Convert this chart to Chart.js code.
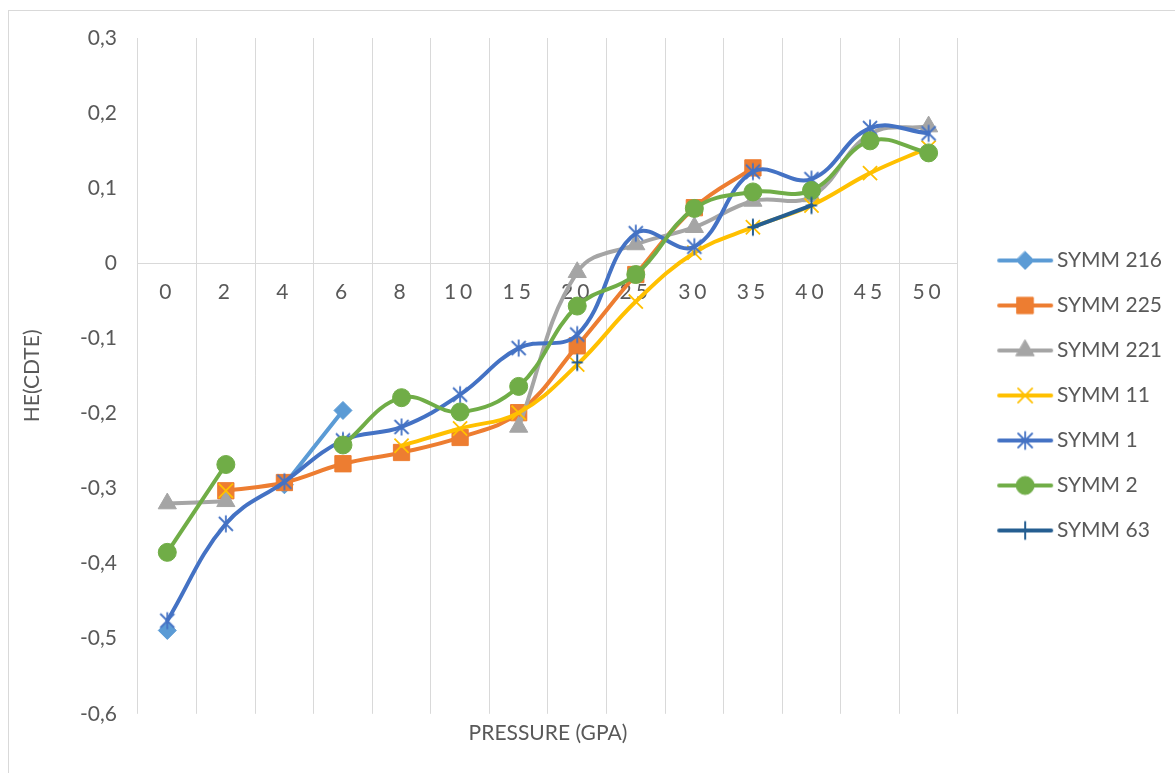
<!DOCTYPE html>
<html>
<head>
<meta charset="utf-8">
<script src="https://cdn.jsdelivr.net/npm/chart.js@4.4.1/dist/chart.umd.min.js"></script>
<style>
  html, body { margin: 0; padding: 0; background: #ffffff; overflow: hidden; }
  canvas { display: block; }
</style>
</head>
<body>
<canvas id="chart" width="1175" height="773"></canvas>
<script>
// Pressure steps (GPa) on the category axis
const pressureLabels = ['0', '2', '4', '6', '8', '10', '15', '20', '25', '30', '35', '40', '45', '50'];

// Enthalpy of CdTe per symmetry group (null = no structure at that pressure)
const symm216 = [-0.489, null, -0.295, -0.196, null, null, null, null, null, null, null, null, null, null];
const symm225 = [null, -0.303, -0.292, -0.267, -0.252, -0.232, -0.199, -0.110, -0.015, 0.074, 0.127, null, null, null];
const symm221 = [-0.320, -0.317, null, null, null, null, -0.218, -0.012, 0.025, 0.048, 0.083, 0.089, 0.172, 0.182];
const symm11  = [null, -0.303, null, null, -0.243, -0.220, -0.199, -0.135, -0.051, 0.014, 0.048, 0.077, 0.120, 0.154];
const symm1   = [-0.476, -0.347, -0.291, -0.236, -0.218, -0.175, -0.113, -0.095, 0.040, 0.022, 0.122, 0.112, 0.180, 0.173];
const symm2   = [-0.385, -0.268, null, -0.242, -0.179, -0.198, -0.164, -0.057, -0.015, 0.073, 0.095, 0.097, 0.163, 0.147];
const symm63  = [null, null, null, null, null, null, null, -0.132, null, null, 0.048, 0.077, null, null];

const yTickMin = -0.6;
const yTickMax = 0.3;
const yTickStep = 0.1;

const TEXT = '#595959';
const GRID = '#d9d9d9';
Chart.defaults.font.family = 'Lato, "Open Sans", "Liberation Sans", sans-serif';
Chart.defaults.font.size = 21;
Chart.defaults.color = TEXT;

function makeCanvas(w, h, paint) {
  const c = document.createElement('canvas');
  c.width = w; c.height = h;
  paint(c.getContext('2d'));
  return c;
}

// Marker shapes, used for the legend swatches and the custom point styles
function drawMarker(ctx, kind, x, y, color) {
  ctx.save();
  ctx.fillStyle = color;
  ctx.strokeStyle = color;
  ctx.lineWidth = 1;
  ctx.beginPath();
  if (kind === 'diamond') {
    const r = 9;
    ctx.moveTo(x, y - r); ctx.lineTo(x + r, y); ctx.lineTo(x, y + r); ctx.lineTo(x - r, y);
    ctx.closePath(); ctx.fill(); ctx.stroke();
  } else if (kind === 'square') {
    const s = 11.5 * Math.SQRT1_2;
    ctx.rect(x - s, y - s, 2 * s, 2 * s); ctx.fill(); ctx.stroke();
  } else if (kind === 'triangle') {
    const r = 10.5;
    ctx.moveTo(x, y - r); ctx.lineTo(x + 0.866 * r, y + 0.5 * r); ctx.lineTo(x - 0.866 * r, y + 0.5 * r);
    ctx.closePath(); ctx.fill(); ctx.stroke();
  } else if (kind === 'x') {
    const d = 10 * Math.SQRT1_2;
    ctx.lineWidth = 1.8;
    ctx.moveTo(x - d, y - d); ctx.lineTo(x + d, y + d);
    ctx.moveTo(x + d, y - d); ctx.lineTo(x - d, y + d);
    ctx.stroke();
  } else if (kind === 'star') {
    ctx.lineWidth = 1.8;
    ctx.moveTo(x, y - 8.5); ctx.lineTo(x, y + 8.5);
    ctx.moveTo(x - 7, y - 7); ctx.lineTo(x + 7, y + 7);
    ctx.moveTo(x + 7, y - 7); ctx.lineTo(x - 7, y + 7);
    ctx.stroke();
  } else if (kind === 'circle') {
    ctx.arc(x, y, 9, 0, Math.PI * 2); ctx.fill(); ctx.stroke();
  } else if (kind === 'plus') {
    ctx.lineWidth = 2;
    ctx.moveTo(x - 5.5, y); ctx.lineTo(x + 5.5, y);
    ctx.moveTo(x, y - 8.5); ctx.lineTo(x, y + 8.5);
    ctx.stroke();
  }
  ctx.restore();
}

const starPoint = makeCanvas(18, 20, ctx => drawMarker(ctx, 'star', 9, 10, '#4472C4'));
const plusPoint = makeCanvas(14, 20, ctx => drawMarker(ctx, 'plus', 7, 10, '#255E91'));

const seriesDefs = [
  { label: 'SYMM 216', data: symm216, color: '#5B9BD5', marker: 'diamond',  style: 'rectRot',  radius: 9 },
  { label: 'SYMM 225', data: symm225, color: '#ED7D31', marker: 'square',   style: 'rect',     radius: 11.5 },
  { label: 'SYMM 221', data: symm221, color: '#A5A5A5', marker: 'triangle', style: 'triangle', radius: 10.5 },
  { label: 'SYMM 11',  data: symm11,  color: '#FFC000', marker: 'x',        style: 'crossRot', radius: 10, border: 1.8 },
  { label: 'SYMM 1',   data: symm1,   color: '#4472C4', marker: 'star',     style: starPoint,  radius: 8 },
  { label: 'SYMM 2',   data: symm2,   color: '#70AD47', marker: 'circle',   style: 'circle',   radius: 9 },
  { label: 'SYMM 63',  data: symm63,  color: '#255E91', marker: 'plus',     style: plusPoint,  radius: 8 }
];

// Legend swatch: a short line with the marker in its middle
const legendSwatches = seriesDefs.map(s => makeCanvas(80, 24, ctx => {
  ctx.strokeStyle = s.color;
  ctx.lineWidth = 4;
  ctx.lineCap = 'round';
  ctx.beginPath(); ctx.moveTo(25, 12); ctx.lineTo(77, 12); ctx.stroke();
  drawMarker(ctx, s.marker, 51, 12, s.color);
}));

const datasets = seriesDefs.map((s, i) => ({
  label: s.label,
  data: s.data,
  borderColor: s.color,
  backgroundColor: s.color,
  borderWidth: 4,
  borderCapStyle: 'round',
  borderJoinStyle: 'round',
  tension: 0.4,
  spanGaps: false,
  pointStyle: s.style,
  pointRadius: s.radius,
  pointHoverRadius: s.radius,
  pointBackgroundColor: s.color,
  pointBorderColor: s.color,
  pointBorderWidth: s.border || 1,
  order: seriesDefs.length - i
}));

// Thin frame around the whole chart
const chartFrame = {
  id: 'chartFrame',
  beforeDraw(chart) {
    const ctx = chart.ctx;
    ctx.save();
    ctx.strokeStyle = GRID;
    ctx.lineWidth = 1;
    ctx.strokeRect(8.5, 10.5, 1400, 1000);
    ctx.restore();
  }
};

// Wider character spacing for the category labels
const spacedCategoryLabels = {
  id: 'spacedCategoryLabels',
  beforeDraw(chart) {
    const s = chart.scales.x;
    if (s && !s.__spaced) {
      const base = s.drawLabels;
      s.drawLabels = function (area) {
        const ctx = this.ctx;
        ctx.save();
        if ('letterSpacing' in ctx) ctx.letterSpacing = '4px';
        base.call(this, area);
        ctx.restore();
      };
      s.__spaced = true;
    }
  }
};

const defaultLegendLabels = Chart.defaults.plugins.legend.labels.generateLabels;

new Chart(document.getElementById('chart'), {
  type: 'line',
  data: { labels: pressureLabels, datasets },
  plugins: [chartFrame, spacedCategoryLabels],
  options: {
    responsive: false,
    animation: false,
    devicePixelRatio: 1,
    layout: { padding: { left: 20, top: 38, right: 3, bottom: 20 } },
    plugins: {
      tooltip: { enabled: false },
      legend: {
        position: 'right',
        align: 'center',
        labels: {
          usePointStyle: true,
          pointStyleWidth: 64.5,
          padding: 24,
          color: TEXT,
          font: { size: 21 },
          sort: (a, b) => a.datasetIndex - b.datasetIndex,
          generateLabels(chart) {
            return defaultLegendLabels(chart).map(item => {
              item.pointStyle = legendSwatches[item.datasetIndex];
              return item;
            });
          }
        }
      }
    },
    scales: {
      x: {
        type: 'category',
        position: { y: 0 },
        offset: true,
        grid: { display: true, offset: true, color: GRID, lineWidth: 1, drawTicks: false, tickLength: 0 },
        border: { display: true, color: GRID, width: 1 },
        ticks: { color: TEXT, font: { size: 21 }, padding: 16, autoSkip: false, maxRotation: 0 }
      },
      x2: {
        type: 'category',
        labels: pressureLabels,
        position: 'bottom',
        offset: true,
        grid: { display: false, drawTicks: false, tickLength: 0 },
        border: { display: false },
        ticks: { display: false },
        title: { display: true, text: 'PRESSURE (GPA)', color: TEXT, font: { size: 21 }, padding: { top: 7, bottom: 7 } }
      },
      y: {
        position: 'left',
        min: yTickMin,
        max: yTickMax,
        grid: { display: false, drawTicks: false, tickLength: 0 },
        border: { display: false },
        ticks: {
          stepSize: yTickStep,
          color: TEXT,
          font: { size: 21 },
          padding: 21,
          callback: v => Math.abs(v) < 1e-9 ? '0' : v.toFixed(1).replace('.', ',')
        },
        title: { display: true, text: 'HE(CDTE)', color: TEXT, font: { size: 21 }, padding: 0 },
        afterFit(scale) { scale.width = 118; }
      }
    }
  }
});
</script>
</body>
</html>
